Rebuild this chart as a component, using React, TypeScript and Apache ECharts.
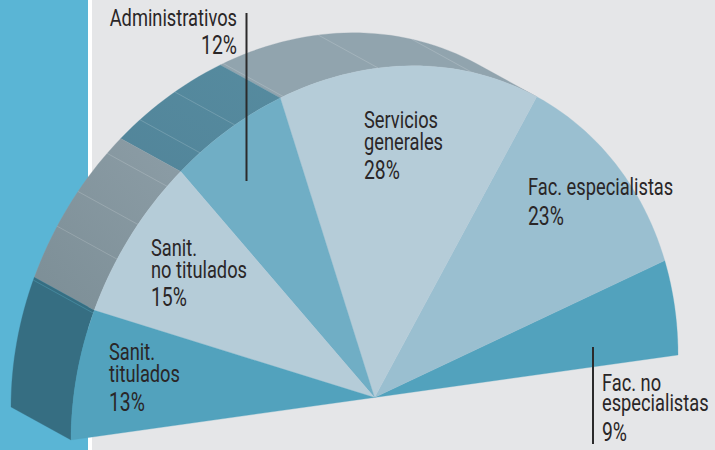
import React, { useEffect, useRef } from "react";
import * as echarts from "echarts";

const categories = ["Fac. no\nespecialistas", "Fac. especialistas", "Servicios\ngenerales", "Administrativos", "Sanit.\nno titulados", "Sanit.\ntitulados"];
const shares = [9, 23, 28, 12, 15, 13];
// Sizes of the wedges as actually drawn in the picture (the printed percentages are rounded)
const drawnShares = [9.45, 22.6, 28, 12, 15.4, 12.55];
const faceColors = ["#52a2bd", "#9abfd0", "#b5ccd8", "#70aec5", "#b5ccd8", "#52a2bd"];
const sideColors: (string[] | null)[] = [null, null, ["#91a4ae", "#91a4ae"], ["#52859a", "#568b9f"], ["#7c8e96", "#8c9da6"], ["#366e82", "#366e82"]];
const seamAngles = [71.3, 89.3, 107.5, 117.4, 125.1, 133.1, 141.2, 148];
const tealSeamAngles = [157.9];

// Projection of the half disc: centre, axis vectors, extrusion (pixels)
const CENTRE = [374.5, 397.5];
const AXIS_A = [303.5, -42.5];
const AXIS_B = [0, -329];
const EXTRUDE = [-60, -33];
const FONT = "Roboto";
const FONT_SIZE = 21;
const SCALE_X = 0.87;
const SCALE_Y = 1.14;
const PCT_SCALE = 1.06;

// For each category: x, anchor, baseline of each name line, baseline of the percentage
const labelLayout = [
  { x: 602, align: "left", lines: [391, 411], pct: 442 },
  { x: 528, align: "left", lines: [195], pct: 226 },
  { x: 364, align: "left", lines: [128, 150], pct: 180 },
  { x: 237, align: "right", lines: [26], pct: 55 },
  { x: 151, align: "left", lines: [256, 278], pct: 307 },
  { x: 109, align: "left", lines: [360, 382], pct: 412 },
];
const leaders = [
  [246.5, 13, 181],
  [593, 347, 444],
];

const cum: number[] = [];
drawnShares.reduce((acc, v, i) => {
  cum[i] = acc;
  return acc + v;
}, 0);
const total = drawnShares.reduce((a, b) => a + b, 0);
const toDeg = (v: number) => (v / total) * 180;

function project(deg: number, off = [0, 0]) {
  const r = (deg * Math.PI) / 180;
  const c = Math.cos(r);
  const s = Math.sin(r);
  return [CENTRE[0] + AXIS_A[0] * c + AXIS_B[0] * s + off[0], CENTRE[1] + AXIS_A[1] * c + AXIS_B[1] * s + off[1]];
}
function arc(d0: number, d1: number, off = [0, 0]) {
  const n = Math.max(4, Math.ceil(Math.abs(d1 - d0) / 1.5));
  const pts: number[][] = [];
  for (let i = 0; i <= n; i++) pts.push(project(d0 + ((d1 - d0) * i) / n, off));
  return pts;
}

export default function App() {
  const ref = useRef<HTMLDivElement>(null);
  useEffect(() => {
    document.body.style.margin = "0";
    const chart = echarts.init(ref.current!, undefined, { renderer: "svg" });
    const seriesData = drawnShares.map((v, i) => [i, v]);
    const graphics: any[] = [
      { type: "rect", z: -10, shape: { x: 0, y: 0, width: 715, height: 450 }, style: { fill: "#e5e6e8" } },
      { type: "rect", z: -9, shape: { x: 0, y: 0, width: 88, height: 450 }, style: { fill: "#5ab5d5" } },
      { type: "rect", z: -9, shape: { x: 88, y: 0, width: 4, height: 450 }, style: { fill: "#ffffff" } },
    ];
    leaders.forEach(([x, y1, y2]) =>
      graphics.push({ type: "line", z: 20, shape: { x1: x, y1, x2: x, y2 }, style: { stroke: "#2b2a2b", lineWidth: 2 } })
    );
    const txt = (t: string, x: number, base: number, align: string, k = 1) => ({
      type: "text",
      z: 21,
      x,
      y: base - FONT_SIZE * SCALE_Y * k * 0.355,
      scaleX: SCALE_X * k,
      scaleY: SCALE_Y * k,
      style: { text: t, fill: "#2a2627", font: `${FONT_SIZE}px ${FONT}`, textAlign: align, textVerticalAlign: "middle" },
    });
    categories.forEach((c, i) => {
      const l = labelLayout[i];
      c.split("\n").forEach((line, k) => graphics.push(txt(line, l.x, l.lines[k], l.align)));
      graphics.push(txt(`${shares[i]}%`, l.x, l.pct, l.align, PCT_SCALE));
    });
    const seam = (color: string) => (_: any, api: any) => {
      const d = api.value(0);
      const p = project(d);
      const q = project(d, EXTRUDE);
      return { type: "line", shape: { x1: p[0], y1: p[1], x2: q[0], y2: q[1] }, style: { stroke: color, lineWidth: 0.6 } };
    };
    chart.setOption({
      animation: false,
      grid: { left: 0, right: 0, top: 0, bottom: 0 },
      xAxis: { type: "value", min: 0, max: 715, show: false },
      yAxis: { type: "value", min: 0, max: 450, inverse: true, show: false },
      graphic: graphics,
      series: [
        {
          type: "custom",
          z: 2,
          clip: false,
          silent: true,
          data: seriesData,
          encode: { x: 0, y: 1 },
          renderItem: (_: any, api: any) => {
            const i = api.value(0);
            const cols = sideColors[i];
            if (!cols) return null;
            const d0 = toDeg(cum[i]);
            const d1 = toDeg(cum[i] + drawnShares[i]);
            const pts = [...arc(d0, d1), ...arc(d1, d0, EXTRUDE)];
            const fill = new echarts.graphic.LinearGradient(0, 1, 1, 0, [
              { offset: 0, color: cols[0] },
              { offset: 1, color: cols[1] },
            ]);
            return { type: "polygon", shape: { points: pts }, style: { fill, stroke: cols[1], lineWidth: 0.3 } };
          },
        },
        { type: "custom", z: 3, clip: false, silent: true, data: seamAngles.map((d) => [d, 0]), encode: { x: 0, y: 1 }, renderItem: seam("rgba(255,255,255,0.28)") },
        { type: "custom", z: 3, clip: false, silent: true, data: tealSeamAngles.map((d) => [d, 0]), encode: { x: 0, y: 1 }, renderItem: seam("#4d97ad") },
        {
          type: "custom",
          z: 4,
          clip: false,
          silent: true,
          data: seriesData,
          encode: { x: 0, y: 1 },
          renderItem: (_: any, api: any) => {
            const i = api.value(0);
            const pts = [CENTRE, ...arc(toDeg(cum[i]), toDeg(cum[i] + drawnShares[i]))];
            return { type: "polygon", shape: { points: pts }, style: { fill: faceColors[i], stroke: faceColors[i], lineWidth: 0.3 } };
          },
        },
      ],
    });
    return () => chart.dispose();
  }, []);
  return <div ref={ref} style={{ position: "absolute", left: 0, top: 0, width: 715, height: 450 }} />;
}
